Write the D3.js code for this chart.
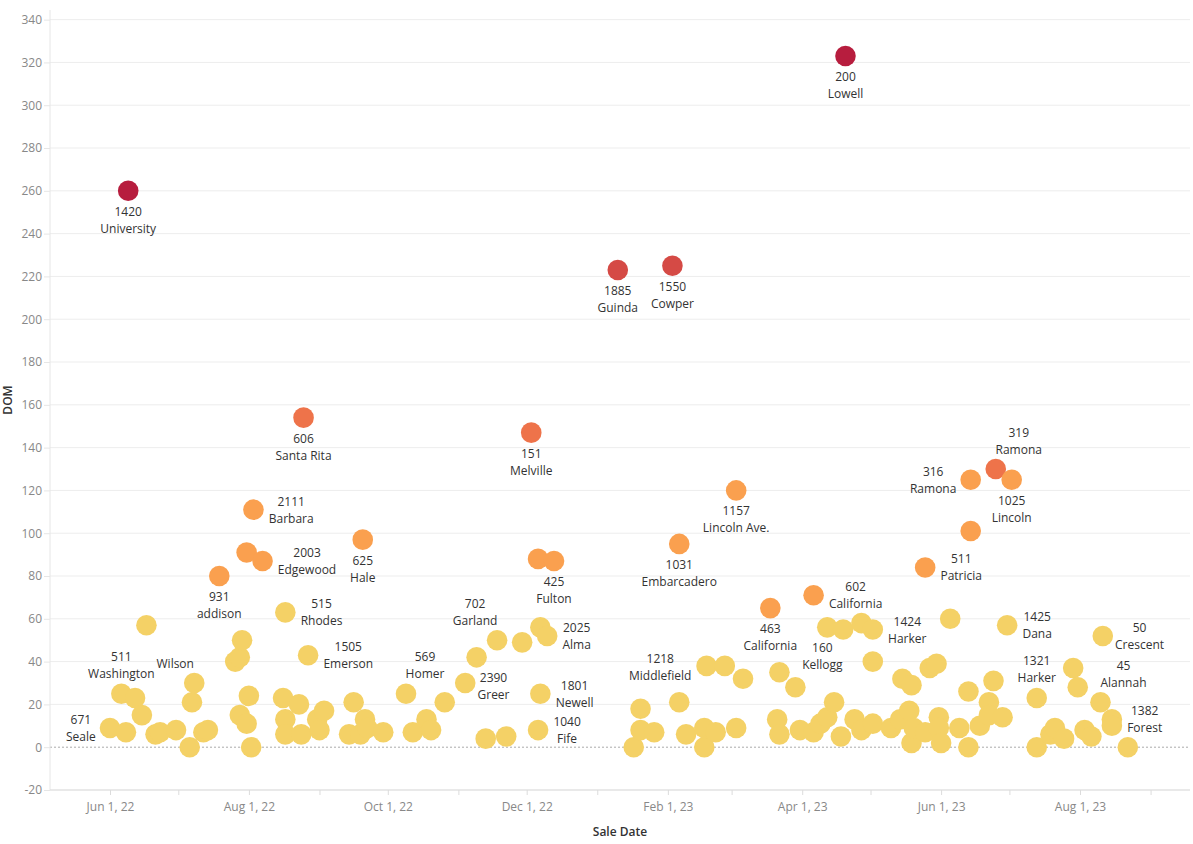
<!DOCTYPE html>
<html>
<head>
<meta charset="utf-8">
<script src="https://cdn.jsdelivr.net/npm/d3@7"></script>
<style>
body { margin: 0; background: #fff; }
svg { display: block; font-family: "Open Sans", sans-serif; }
</style>
</head>
<body>
<svg id="chart" width="1193" height="844"></svg>
<script>
// sale date, days on market
const sales = [
    ["2022-06-01", 9], ["2022-06-06", 25], ["2022-06-08", 7], ["2022-06-09", 260], ["2022-06-12", 23],
    ["2022-06-15", 15], ["2022-06-17", 57], ["2022-06-21", 6], ["2022-06-23", 7], ["2022-06-30", 8],
    ["2022-07-06", 0], ["2022-07-07", 21], ["2022-07-08", 30], ["2022-07-12", 7], ["2022-07-14", 8],
    ["2022-07-19", 80], ["2022-07-26", 40], ["2022-07-28", 42], ["2022-07-29", 50], ["2022-07-28", 15],
    ["2022-07-31", 11], ["2022-07-31", 91], ["2022-08-01", 24], ["2022-08-02", 0], ["2022-08-03", 111],
    ["2022-08-07", 87], ["2022-08-16", 23], ["2022-08-17", 63], ["2022-08-17", 13], ["2022-08-17", 6],
    ["2022-08-23", 20], ["2022-08-24", 6], ["2022-08-25", 154], ["2022-08-27", 43], ["2022-08-31", 13],
    ["2022-09-01", 8], ["2022-09-03", 17], ["2022-09-14", 6], ["2022-09-16", 21], ["2022-09-19", 6],
    ["2022-09-20", 97], ["2022-09-21", 13], ["2022-09-22", 9], ["2022-09-29", 7],
    ["2022-10-09", 25], ["2022-10-12", 7], ["2022-10-18", 13], ["2022-10-20", 8], ["2022-10-26", 21],
    ["2022-11-04", 30], ["2022-11-09", 42], ["2022-11-13", 4], ["2022-11-18", 50], ["2022-11-22", 5],
    ["2022-11-29", 49], ["2022-12-03", 147], ["2022-12-06", 88], ["2022-12-06", 8], ["2022-12-07", 25],
    ["2022-12-07", 56], ["2022-12-10", 52], ["2022-12-13", 87],
    ["2023-01-10", 223], ["2023-01-17", 0], ["2023-01-20", 18], ["2023-01-20", 8], ["2023-01-26", 7],
    ["2023-02-03", 225], ["2023-02-06", 95], ["2023-02-06", 21], ["2023-02-09", 6], ["2023-02-17", 0],
    ["2023-02-17", 9], ["2023-02-18", 38], ["2023-02-22", 7], ["2023-02-26", 38],
    ["2023-03-03", 120], ["2023-03-03", 9], ["2023-03-06", 32], ["2023-03-18", 65], ["2023-03-21", 13],
    ["2023-03-22", 6], ["2023-03-22", 35], ["2023-03-29", 28], ["2023-03-31", 8],
    ["2023-04-06", 71], ["2023-04-06", 7], ["2023-04-09", 11], ["2023-04-12", 14], ["2023-04-12", 56],
    ["2023-04-15", 21], ["2023-04-18", 5], ["2023-04-19", 55], ["2023-04-20", 323], ["2023-04-24", 13],
    ["2023-04-27", 8], ["2023-04-27", 58],
    ["2023-05-02", 55], ["2023-05-02", 40], ["2023-05-02", 11], ["2023-05-10", 9], ["2023-05-14", 13],
    ["2023-05-15", 32], ["2023-05-18", 17], ["2023-05-19", 2], ["2023-05-19", 29], ["2023-05-20", 9],
    ["2023-05-25", 7], ["2023-05-25", 84], ["2023-05-27", 37], ["2023-05-30", 39], ["2023-05-31", 14],
    ["2023-05-31", 9],
    ["2023-06-01", 2], ["2023-06-05", 60], ["2023-06-09", 9], ["2023-06-13", 26], ["2023-06-13", 0],
    ["2023-06-14", 101], ["2023-06-14", 125], ["2023-06-18", 10], ["2023-06-22", 21], ["2023-06-22", 15],
    ["2023-06-24", 31], ["2023-06-25", 130], ["2023-06-28", 14], ["2023-06-30", 57],
    ["2023-07-02", 125], ["2023-07-13", 23], ["2023-07-13", 0], ["2023-07-19", 6], ["2023-07-21", 9],
    ["2023-07-25", 4], ["2023-07-29", 37], ["2023-07-31", 28],
    ["2023-08-03", 8], ["2023-08-06", 5], ["2023-08-10", 21], ["2023-08-11", 52], ["2023-08-15", 13],
    ["2023-08-15", 10], ["2023-08-22", 0]
];

// sale date, DOM, street number, street
const labels = [
    ["2022-06-01", 9, "671", "Seale"],
    ["2022-06-06", 25, "511", "Washington"],
    ["2022-06-09", 260, "1420", "University"],
    ["2022-07-08", 30, "", "Wilson"],
    ["2022-07-19", 80, "931", "addison"],
    ["2022-08-03", 111, "2111", "Barbara"],
    ["2022-08-07", 87, "2003", "Edgewood"],
    ["2022-08-17", 63, "515", "Rhodes"],
    ["2022-08-25", 154, "606", "Santa Rita"],
    ["2022-08-27", 43, "1505", "Emerson"],
    ["2022-09-20", 97, "625", "Hale"],
    ["2022-10-09", 25, "569", "Homer"],
    ["2022-11-04", 30, "2390", "Greer"],
    ["2022-11-18", 50, "702", "Garland"],
    ["2022-12-03", 147, "151", "Melville"],
    ["2022-12-06", 8, "1040", "Fife"],
    ["2022-12-07", 25, "1801", "Newell"],
    ["2022-12-10", 52, "2025", "Alma"],
    ["2022-12-13", 87, "425", "Fulton"],
    ["2023-01-10", 223, "1885", "Guinda"],
    ["2023-02-03", 225, "1550", "Cowper"],
    ["2023-02-06", 95, "1031", "Embarcadero"],
    ["2023-02-06", 21, "1218", "Middlefield"],
    ["2023-03-03", 120, "1157", "Lincoln Ave."],
    ["2023-03-18", 65, "463", "California"],
    ["2023-03-29", 28, "160", "Kellogg"],
    ["2023-04-06", 71, "602", "California"],
    ["2023-04-20", 323, "200", "Lowell"],
    ["2023-05-02", 55, "1424", "Harker"],
    ["2023-05-25", 84, "511", "Patricia"],
    ["2023-06-14", 125, "316", "Ramona"],
    ["2023-06-25", 130, "319", "Ramona"],
    ["2023-06-30", 57, "1425", "Dana"],
    ["2023-07-02", 125, "1025", "Lincoln"],
    ["2023-07-13", 23, "1321", "Harker"],
    ["2023-08-10", 21, "45", "Alannah"],
    ["2023-08-11", 52, "50", "Crescent"],
    ["2023-08-15", 13, "1382", "Forest"]
];

// where each label sits relative to its mark: side, nudge x, nudge y
const labelPlacement = {
    "671 Seale": ["left", 0, 0],
    "511 Washington": ["above", 0, 0],
    "1420 University": ["below", 0, 0],
    " Wilson": ["above", -19, 0],
    "931 addison": ["below", 0, 0],
    "2111 Barbara": ["right", 0, 0],
    "2003 Edgewood": ["right", 0, 0],
    "515 Rhodes": ["right", 0, 0],
    "606 Santa Rita": ["below", 0, 0],
    "1505 Emerson": ["right", 0, 0],
    "625 Hale": ["below", 0, 0],
    "569 Homer": ["above", 19, 0],
    "2390 Greer": ["right", -3, 3],
    "702 Garland": ["above", -22, 0],
    "151 Melville": ["below", 0, 0],
    "1040 Fife": ["right", 0, 0],
    "1801 Newell": ["right", 0, 0],
    "2025 Alma": ["right", 0, 0],
    "425 Fulton": ["below", 0, 0],
    "1885 Guinda": ["below", 0, 0],
    "1550 Cowper": ["below", 0, 0],
    "1031 Embarcadero": ["below", 0, 0],
    "1218 Middlefield": ["above", -19, -7],
    "1157 Lincoln Ave.": ["below", 0, 0],
    "463 California": ["below", 0, 0],
    "160 Kellogg": ["above", 27, -3],
    "602 California": ["right", 0, 0],
    "200 Lowell": ["below", 0, 0],
    "1424 Harker": ["right", 0, 0],
    "511 Patricia": ["right", 0, 0],
    "316 Ramona": ["left", 0, 0],
    "319 Ramona": ["above", 23, 0],
    "1425 Dana": ["right", 0, 0],
    "1025 Lincoln": ["below", 0, 0],
    "1321 Harker": ["above", 0, 0],
    "45 Alannah": ["above", 23, 0],
    "50 Crescent": ["right", -3, 0],
    "1382 Forest": ["right", 0, 0]
};

const yTicks = d3.range(-20, 341, 20);
const stepColors = ["#f4d166", "#faa04f", "#ee734a", "#d54a45", "#b71d3e"];

const svg = d3.select("#chart");
const margin = {left: 50, right: 3, top: 10, bottom: 54};
const W = +svg.attr("width"), H = +svg.attr("height");
const r = 10.3;

const parse = d3.utcParse("%Y-%m-%d");
const points = sales.map(d => ({date: parse(d[0]), dom: d[1]}));

// Jun 1, 22 .. Aug 1, 23 spans 110..1080 px; extend to the full plot width
const x = d3.scaleUtc()
    .domain([parse("2022-06-01"), parse("2023-08-01")])
    .range([110, 1080]);
x.domain([x.invert(margin.left), x.invert(W - margin.right)]).range([margin.left, W - margin.right]);

const y = d3.scaleLinear().domain([-20, 344.5]).range([H - margin.bottom, margin.top]);

const color = d3.scaleQuantize()
    .domain([0, d3.max(points, d => d.dom)])
    .range(stepColors);

// gridlines
svg.append("g").selectAll("line").data(yTicks.filter(t => t !== 0)).join("line")
    .attr("x1", margin.left).attr("x2", W - margin.right)
    .attr("y1", d => y(d)).attr("y2", d => y(d))
    .attr("stroke", "#ededed");

svg.append("line")
    .attr("x1", margin.left).attr("x2", W - margin.right)
    .attr("y1", y(0)).attr("y2", y(0))
    .attr("stroke", "#aaa").attr("stroke-dasharray", "2,2");

// y axis
const yAxis = svg.append("g")
    .attr("transform", `translate(${margin.left},0)`)
    .call(d3.axisLeft(y).tickValues(yTicks).tickSize(6).tickPadding(2).tickFormat(d => String(d)));
yAxis.select(".domain").attr("stroke", "#e6e6e6").attr("d", `M0,${margin.top}V${H - margin.bottom}`);
yAxis.selectAll(".tick line").attr("stroke", "#e6e6e6");
yAxis.selectAll(".tick text").attr("fill", "#888").style("font-size", "12px").style("font-family", "Open Sans");

// x axis
const months = d3.utcMonth.range(x.domain()[0], x.domain()[1]);
const xAxis = svg.append("g")
    .attr("transform", `translate(0,${H - margin.bottom})`)
    .call(d3.axisBottom(x).tickValues(months).tickSize(5).tickPadding(7)
        .tickFormat(d => d.getUTCMonth() % 2 === 1 ? d3.utcFormat("%b %-d, %y")(d) : ""));
xAxis.select(".domain").attr("stroke", "#dcdcdc").attr("d", `M${margin.left},0H${W - margin.right}`);
xAxis.selectAll(".tick line").attr("stroke", "#dcdcdc");
xAxis.selectAll(".tick text").attr("fill", "#888").style("font-size", "12px").style("font-family", "Open Sans");

// axis titles
svg.append("text")
    .attr("x", (margin.left + W - margin.right) / 2).attr("y", 836)
    .attr("text-anchor", "middle")
    .attr("fill", "#333").style("font-size", "12px").style("font-weight", 600)
    .text("Sale Date");

svg.append("text")
    .attr("transform", `translate(12,${(margin.top + H - margin.bottom) / 2}) rotate(-90)`)
    .attr("text-anchor", "middle")
    .attr("fill", "#333").style("font-size", "12px").style("font-weight", 600)
    .text("DOM");

// marks
svg.append("g").selectAll("circle").data(points).join("circle")
    .attr("cx", d => x(d.date))
    .attr("cy", d => y(d.dom))
    .attr("r", r)
    .attr("fill", d => color(d.dom));

// mark labels
const lab = svg.append("g")
    .style("font-size", "12px")
    .attr("fill", "#333");

labels.forEach(function (l) {
    const px = x(parse(l[0])), py = y(l[1]);
    const place = labelPlacement[l[2] + " " + l[3]];
    const g = lab.append("g");
    const t1 = g.append("text").attr("text-anchor", "middle").attr("dominant-baseline", "central").text(l[2]);
    const t2 = g.append("text").attr("text-anchor", "middle").attr("dominant-baseline", "central").text(l[3]);
    const w = Math.max(t1.node().getComputedTextLength(), t2.node().getComputedTextLength());
    let cx = px, cy = py;
    if (place[0] === "below") cy = py + 29;
    if (place[0] === "above") cy = py - 28.5;
    if (place[0] === "right") cx = px + r + 5 + w / 2;
    if (place[0] === "left") cx = px - r - 4 - w / 2;
    cx += place[1];
    cy += place[2];
    t1.attr("x", cx).attr("y", cy - 8.5);
    t2.attr("x", cx).attr("y", cy + 8.5);
});
</script>
</body>
</html>
